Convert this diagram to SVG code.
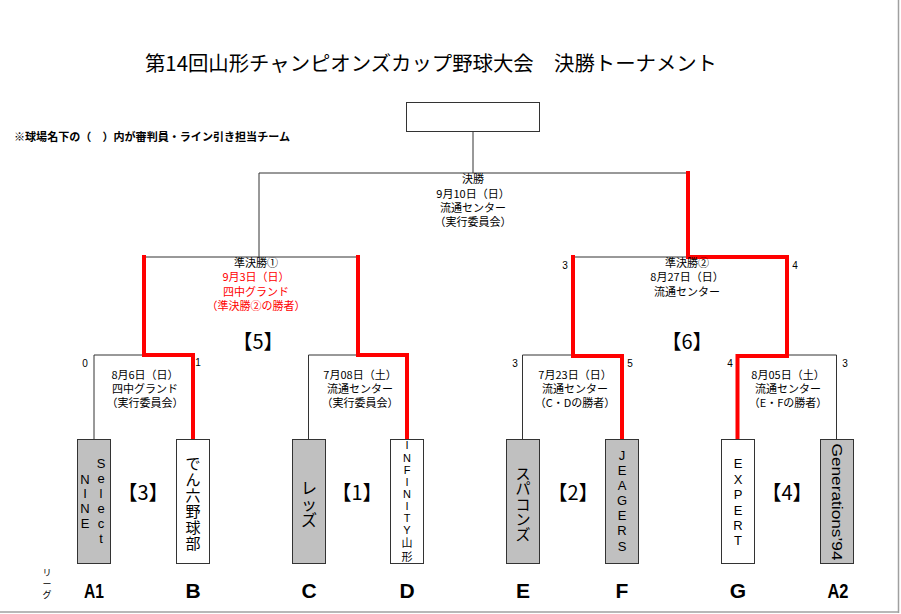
<svg xmlns="http://www.w3.org/2000/svg" width="901" height="614" viewBox="0 0 901 614">
<style>
text{font-family:"Liberation Sans","Noto Sans CJK JP",sans-serif;fill:#000}
.jp{font-family:"Noto Sans CJK JP","Liberation Sans",sans-serif}
.s{font-size:11px;text-anchor:middle}
.red{fill:#f00}
.ln{stroke:#333;stroke-width:1;fill:none}
.rd{stroke:#f00;stroke-width:4;fill:none;stroke-linejoin:miter;stroke-linecap:square}
.box{stroke:#333;stroke-width:1}
.g{fill:#c0c0c0}
.w{fill:#fff}
.rn{font-size:20px;text-anchor:middle}
.lg{font-family:"Liberation Sans Narrow","Liberation Sans",sans-serif;font-size:21px;font-weight:bold;text-anchor:middle}
.sc{font-size:10px;text-anchor:middle}
.v{text-anchor:middle}
.lat{font-size:13px}
.cjk{font-size:15px}
</style>
<rect x="0" y="0" width="901" height="614" fill="#fff"/>
<line x1="898.5" y1="0" x2="898.5" y2="613" stroke="#a0a0a0" stroke-width="1.5"/>
<line x1="0" y1="612" x2="899" y2="612" stroke="#a0a0a0" stroke-width="1.5"/>

<text class="jp" x="431" y="71" font-size="20" text-anchor="middle" textLength="572" lengthAdjust="spacingAndGlyphs">第14回山形チャンピオンズカップ野球大会　決勝トーナメント</text>
<text class="jp" x="14" y="141" font-size="11" font-weight="bold" textLength="276" lengthAdjust="spacingAndGlyphs">※球場名下の（　）内が審判員・ライン引き担当チーム</text>

<g id="connectors">
  <line class="ln" x1="473" y1="131" x2="473" y2="173"/>
  <line class="ln" x1="259" y1="173" x2="688" y2="173"/>
  <line class="ln" x1="259" y1="173" x2="259" y2="257"/>
  <line class="ln" x1="144" y1="257" x2="358" y2="257"/>
  <line class="ln" x1="573" y1="257" x2="688" y2="257"/>
  <path class="ln" d="M94 439 V355 H193"/>
  <path class="ln" d="M308.5 439 V355 H407"/>
  <path class="ln" d="M522.5 439 V355 H622"/>
  <path class="ln" d="M737 355 H836.5 V439"/>
  <path class="rd" d="M144 257 V355 H193 V438"/>
  <path class="rd" d="M358 257 V355 H407 V438"/>
  <path class="rd" d="M688 173 V257 H787 V356 H737.5 V438"/>
  <path class="rd" d="M573 257 V356 H622 V438"/>
</g>

<g id="top">
  <rect class="box w" x="406.5" y="102.5" width="133" height="29"/>
</g>

<g id="final">
  <text class="jp s" x="473" y="183">決勝</text>
  <text class="jp s" x="473" y="198">9月10日（日）</text>
  <text class="jp s" x="473" y="212">流通センター</text>
  <text class="jp s" x="473" y="226">（実行委員会）</text>
</g>

<g id="semi1">
  <text class="jp s" x="256" y="267">準決勝①</text>
  <text class="jp s red" x="256" y="281">9月3日（日）</text>
  <text class="jp s red" x="256" y="296">四中グランド</text>
  <text class="jp s red" x="256" y="310">（準決勝②の勝者）</text>
  <text class="jp rn" x="258" y="349">【5】</text>
</g>

<g id="semi2">
  <text class="jp s" x="687" y="267">準決勝②</text>
  <text class="jp s" x="687" y="281">8月27日（日）</text>
  <text class="jp s" x="687" y="296">流通センター</text>
  <text class="jp rn" x="687" y="349">【6】</text>
  <text class="sc" x="565" y="269">3</text>
  <text class="sc" x="795" y="269">4</text>
</g>

<g id="match3">
  <text class="jp s" x="145" y="379">8月6日（日）</text>
  <text class="jp s" x="145" y="393">四中グランド</text>
  <text class="jp s" x="145" y="407">（実行委員会）</text>
  <text class="jp rn" x="143" y="500">【3】</text>
  <text class="sc" x="85" y="367">0</text>
  <text class="sc" x="198" y="366" font-size="8">1</text>
</g>

<g id="match1">
  <text class="jp s" x="360" y="379">7月08日（土）</text>
  <text class="jp s" x="360" y="393">流通センター</text>
  <text class="jp s" x="360" y="407">（実行委員会）</text>
  <text class="jp rn" x="357" y="500">【1】</text>
</g>

<g id="match2">
  <text class="jp s" x="575" y="379">7月23日（日）</text>
  <text class="jp s" x="575" y="393">流通センター</text>
  <text class="jp s" x="575" y="407">（C・Dの勝者）</text>
  <text class="jp rn" x="573" y="500">【2】</text>
  <text class="sc" x="515" y="367">3</text>
  <text class="sc" x="630" y="367">5</text>
</g>

<g id="match4">
  <text class="jp s" x="788" y="379">8月05日（土）</text>
  <text class="jp s" x="788" y="393">流通センター</text>
  <text class="jp s" x="788" y="407">（E・Fの勝者）</text>
  <text class="jp rn" x="787" y="500">【4】</text>
  <text class="sc" x="730" y="367">4</text>
  <text class="sc" x="845" y="367">3</text>
</g>

<g id="teamA1">
  <rect class="box g" x="77.5" y="439.5" width="33" height="124"/>
  <text class="v lat"><tspan x="85" y="484">N</tspan><tspan x="85" y="498">I</tspan><tspan x="85" y="513">N</tspan><tspan x="85" y="528">E</tspan></text>
  <text class="v lat"><tspan x="101" y="468">S</tspan><tspan x="101" y="483">e</tspan><tspan x="101" y="498">l</tspan><tspan x="101" y="513">e</tspan><tspan x="101" y="528">c</tspan><tspan x="101" y="543">t</tspan></text>
</g>

<g id="teamB">
  <rect class="box w" x="176.5" y="439.5" width="33" height="124"/>
  <text class="jp v cjk"><tspan x="193" y="469">で</tspan><tspan x="193" y="485">ん</tspan><tspan x="193" y="501">六</tspan><tspan x="193" y="517">野</tspan><tspan x="193" y="533">球</tspan><tspan x="193" y="549">部</tspan></text>
</g>

<g id="teamC">
  <rect class="box g" x="292.5" y="439.5" width="33" height="124"/>
  <text class="jp v" font-size="16"><tspan x="309" y="494">レ</tspan><tspan x="309" y="510">ッ</tspan><tspan x="309" y="526">ズ</tspan></text>
</g>

<g id="teamD">
  <rect class="box w" x="390.5" y="439.5" width="33" height="124"/>
  <text class="v" font-size="11"><tspan x="407" y="449">I</tspan><tspan x="407" y="462">N</tspan><tspan x="407" y="474">F</tspan><tspan x="407" y="486">I</tspan><tspan x="407" y="498">N</tspan><tspan x="407" y="510">I</tspan><tspan x="407" y="522">T</tspan><tspan x="407" y="534">Y</tspan><tspan class="jp" x="407" y="547">山</tspan><tspan class="jp" x="407" y="561">形</tspan></text>
</g>

<g id="teamE">
  <rect class="box g" x="506.5" y="439.5" width="33" height="124"/>
  <text class="jp v cjk"><tspan x="523" y="479">ス</tspan><tspan x="523" y="494">パ</tspan><tspan x="523" y="510">コ</tspan><tspan x="523" y="525">ン</tspan><tspan x="523" y="540">ズ</tspan></text>
</g>

<g id="teamF">
  <rect class="box g" x="605.5" y="439.5" width="33" height="124"/>
  <text class="v lat"><tspan x="622" y="460">J</tspan><tspan x="622" y="475">E</tspan><tspan x="622" y="490">A</tspan><tspan x="622" y="505">G</tspan><tspan x="622" y="520">E</tspan><tspan x="622" y="535">R</tspan><tspan x="622" y="551">S</tspan></text>
</g>

<g id="teamG">
  <rect class="box w" x="721.5" y="439.5" width="33" height="124"/>
  <text class="v lat"><tspan x="738" y="468">E</tspan><tspan x="738" y="484">X</tspan><tspan x="738" y="499">P</tspan><tspan x="738" y="515">E</tspan><tspan x="738" y="530">R</tspan><tspan x="738" y="545">T</tspan></text>
</g>

<g id="teamA2">
  <rect class="box g" x="820.5" y="439.5" width="33" height="124"/>
  <text transform="translate(837,502) rotate(90)" x="0" y="5.5" font-size="15" text-anchor="middle" textLength="117" lengthAdjust="spacingAndGlyphs">Generations’94</text>
</g>

<g id="leagues">
  <text class="jp" font-size="9" text-anchor="middle"><tspan x="47" y="576">リ</tspan><tspan x="47" y="587">ー</tspan><tspan x="47" y="598">グ</tspan></text>
  <text class="lg" x="94" y="598" textLength="20" lengthAdjust="spacingAndGlyphs">A1</text>
  <text class="lg" x="193" y="598">B</text>
  <text class="lg" x="309" y="598">C</text>
  <text class="lg" x="407" y="598">D</text>
  <text class="lg" x="523" y="598">E</text>
  <text class="lg" x="622" y="598">F</text>
  <text class="lg" x="738" y="598">G</text>
  <text class="lg" x="838" y="598" textLength="21" lengthAdjust="spacingAndGlyphs">A2</text>
</g>
</svg>
